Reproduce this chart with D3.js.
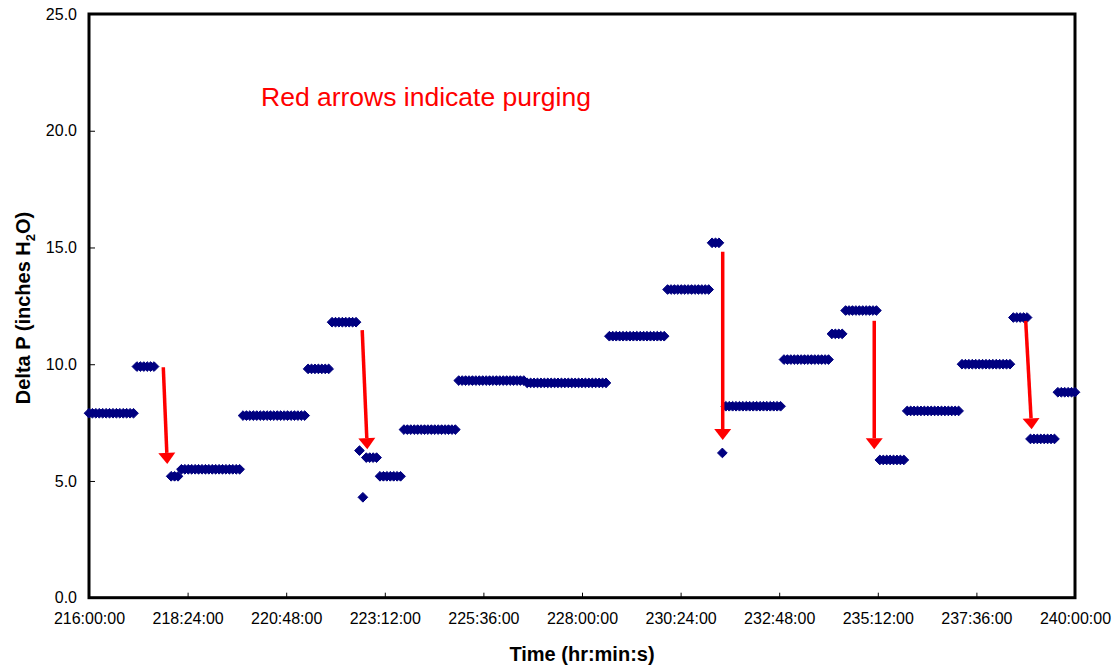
<!DOCTYPE html>
<html>
<head>
<meta charset="utf-8">
<script src="https://cdn.jsdelivr.net/npm/d3@7"></script>
<style>
  body { margin: 0; background: #fff; }
  svg { display: block; font-family: Arial, "Liberation Sans", sans-serif; }
</style>
</head>
<body>
<svg id="chart" width="1120" height="671"></svg>
<script>
// Delta P readings, logged every 5 minutes, grouped as runs of equal value
// runStart = minutes after 216:00:00
const sampleStep = 5;
const runStart = [0, 70, 120, 135, 225, 320, 355, 395, 400, 405, 425, 460, 540, 640,
                  760, 845, 910, 925, 930, 1015, 1085, 1105, 1155, 1195, 1275, 1350, 1375, 1415];
const runValue = [7.9, 9.9, 5.2, 5.5, 7.8, 9.8, 11.8, 6.3, 4.3, 6.0, 5.2, 7.2, 9.3, 9.2,
                  11.2, 13.2, 15.2, 6.2, 8.2, 10.2, 11.3, 12.3, 5.9, 8.0, 10.0, 12.0, 6.8, 8.8];
const runCount = [14, 6, 3, 18, 19, 7, 8, 1, 1, 4, 7, 16, 20, 24,
                  17, 13, 3, 1, 17, 14, 4, 10, 8, 16, 15, 5, 8, 6];

// purge arrows: [minutes, delta P] start -> tip
const arrowFrom = [[108.5, 9.87], [399, 11.46], [925.5, 14.82], [1146.8, 11.86], [1368, 11.86]];
const arrowTo   = [[114.3, 5.73], [406.4, 6.36], [925.5, 6.75], [1146.8, 6.36], [1376.7, 7.21]];

const xTicks = [0, 144, 288, 432, 576, 720, 864, 1008, 1152, 1296, 1440];
const yTicks = [0, 5, 10, 15, 20, 25];

const points = [];
runStart.forEach((s, i) => {
  for (let k = 0; k < runCount[i]; k++) points.push({ t: s + k * sampleStep, v: runValue[i] });
});

const svg = d3.select("#chart");
const plotLeft = 89, plotRight = 1075, plotTop = 14, plotBottom = 597.7;

const x = d3.scaleLinear().domain([0, 1440]).range([plotLeft, plotRight]);
const y = d3.scaleLinear().domain([0, 25]).range([plotBottom, plotTop]);

const fmtTime = m => {
  const h = 216 + Math.floor(m / 60);
  const mm = String(m % 60).padStart(2, "0");
  return `${h}:${mm}:00`;
};

// axes (ticks point inward)
const xAxis = d3.axisBottom(x).tickValues(xTicks).tickSize(-5).tickPadding(14).tickFormat(fmtTime);
const yAxis = d3.axisLeft(y).tickValues(yTicks).tickSize(-6).tickPadding(12).tickFormat(d3.format(".1f"));

const gx = svg.append("g").attr("transform", `translate(0,${plotBottom})`).call(xAxis);
const gy = svg.append("g").attr("transform", `translate(${plotLeft},0)`).call(yAxis);
[gx, gy].forEach(g => {
  g.select(".domain").remove();
  g.selectAll(".tick line").attr("stroke", "#000").attr("stroke-width", 1);
  g.selectAll(".tick text").attr("font-size", 16).attr("fill", "#000")
    .attr("font-family", 'Arial, "Liberation Sans", sans-serif');
});
gx.selectAll(".tick text").attr("dy", "0.71em").attr("y", 15);

// frame
svg.append("rect")
  .attr("x", plotLeft).attr("y", plotTop)
  .attr("width", plotRight - plotLeft).attr("height", plotBottom - plotTop)
  .attr("fill", "none").attr("stroke", "#000").attr("stroke-width", 3);

// markers
const diamond = d3.symbol().type(d3.symbolDiamond2).size(60);
svg.append("g").selectAll("path")
  .data(points)
  .join("path")
  .attr("d", diamond)
  .attr("transform", d => `translate(${x(d.t)},${y(d.v)})`)
  .attr("fill", "#000080")
  .attr("stroke", "#000080")
  .attr("stroke-width", 1);

// arrows
const ag = svg.append("g");
arrowFrom.forEach((f, i) => {
  const to = arrowTo[i];
  const x1 = x(f[0]), y1 = y(f[1]), x2 = x(to[0]), y2 = y(to[1]);
  const ang = Math.atan2(y2 - y1, x2 - x1);
  const len = 11, half = 8.5;
  const bx = x2 - len * Math.cos(ang), by = y2 - len * Math.sin(ang);
  ag.append("line")
    .attr("x1", x1).attr("y1", y1).attr("x2", bx).attr("y2", by)
    .attr("stroke", "#ff0000").attr("stroke-width", 3.5);
  const px = -Math.sin(ang) * half, py = Math.cos(ang) * half;
  ag.append("path")
    .attr("d", `M${x2},${y2}L${bx + px},${by + py}L${bx - px},${by - py}Z`)
    .attr("fill", "#ff0000");
});

// note
svg.append("text")
  .attr("x", 261).attr("y", 106)
  .attr("font-size", 26.5).attr("fill", "#ff0000")
  .text("Red arrows indicate purging");

// axis titles
svg.append("text")
  .attr("x", 582).attr("y", 661)
  .attr("text-anchor", "middle")
  .attr("font-size", 20).attr("font-weight", "bold")
  .text("Time (hr:min:s)");

const yt = svg.append("text")
  .attr("transform", "translate(30,308) rotate(-90)")
  .attr("text-anchor", "middle")
  .attr("font-size", 20).attr("font-weight", "bold");
yt.append("tspan").text("Delta P (inches H");
yt.append("tspan").attr("font-size", 13).attr("dy", 5).text("2");
yt.append("tspan").attr("dy", -5).text("O)");
</script>
</body>
</html>
